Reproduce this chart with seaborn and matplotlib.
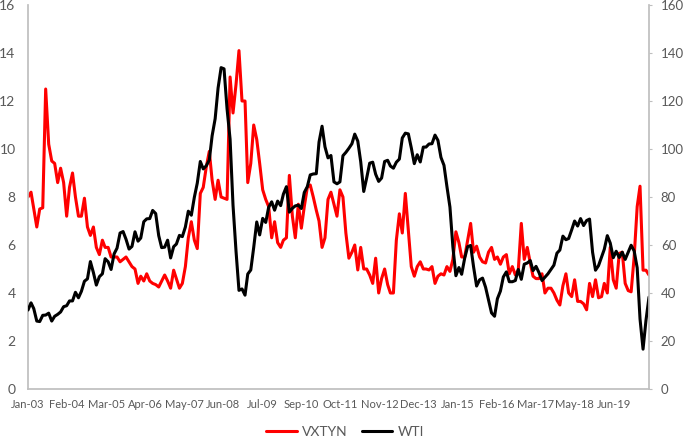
import pandas as pd
import numpy as np
import matplotlib
matplotlib.use('Agg')
import matplotlib.pyplot as plt
import seaborn as sns

# monthly data, Jan 2003 - Jun 2020
months = pd.date_range('2003-01-01', periods=210, freq='MS')

vxtyn = [
    8.0, 8.2, 7.5, 6.75, 7.5, 7.55, 12.5, 10.2, 9.5, 9.4, 8.6, 9.2,        # 2003
    8.6, 7.2, 8.4, 9.0, 8.0, 7.2, 7.2, 7.95, 6.75, 6.4, 6.75, 5.9,         # 2004
    5.6, 6.2, 5.9, 5.9, 5.5, 5.5, 5.5, 5.3, 5.4, 5.5, 5.3, 5.1,            # 2005
    5.0, 4.4, 4.7, 4.5, 4.8, 4.5, 4.4, 4.35, 4.25, 4.5, 4.75, 4.5,         # 2006
    4.2, 4.95, 4.6, 4.2, 4.4, 5.1, 6.3, 6.97, 6.2, 5.85, 8.15, 8.4,        # 2007
    9.25, 9.9, 8.7, 7.9, 8.7, 8.0, 7.95, 7.9, 13.0, 11.5, 12.7, 14.1,      # 2008
    12.0, 12.0, 8.6, 9.4, 11.0, 10.4, 9.4, 8.3, 7.9, 7.6, 6.3, 6.97,       # 2009
    6.1, 5.9, 6.2, 6.3, 8.9, 7.2, 6.3, 7.7, 6.7, 7.6, 8.4, 8.5,            # 2010
    8.0, 7.45, 7.0, 5.9, 6.3, 7.9, 8.2, 7.7, 7.2, 8.3, 8.0, 6.5,           # 2011
    5.45, 5.7, 6.0, 4.96, 5.9, 5.0, 5.0, 4.75, 4.4, 5.45, 4.0, 4.6,        # 2012
    5.0, 4.35, 4.0, 4.0, 6.2, 7.3, 6.5, 8.15, 6.6, 5.1, 4.7, 5.1,          # 2013
    5.3, 5.0, 5.0, 4.96, 5.1, 4.4, 4.7, 4.8, 4.75, 5.1, 4.9, 5.4,          # 2014
    6.55, 6.1, 5.5, 5.5, 6.2, 6.9, 5.7, 5.95, 5.5, 5.3, 5.25, 5.7,         # 2015
    5.9, 5.4, 5.5, 5.2, 5.5, 5.6, 4.8, 5.1, 4.75, 4.96, 6.9, 5.4,          # 2016
    5.9, 5.25, 4.7, 4.6, 4.6, 4.8, 4.0, 4.2, 4.2, 4.0, 3.7, 3.5,           # 2017
    4.3, 4.8, 4.0, 3.85, 4.55, 3.65, 3.65, 3.55, 3.3, 4.4, 3.85, 4.55,     # 2018
    3.8, 3.85, 4.4, 4.0, 5.9, 4.55, 4.2, 5.65, 5.7, 4.4, 4.1, 4.05,        # 2019
    5.5, 7.6, 8.45, 4.95, 4.95, 4.75,                                      # 2020
]

wti = [
    32.9, 35.9, 33.5, 28.3, 28.1, 30.7, 30.8, 31.6, 28.3, 30.3, 31.1, 32.1,
    34.3, 34.7, 36.7, 36.7, 40.3, 38.0, 40.7, 44.9, 45.9, 53.1, 48.5, 43.3,
    46.8, 48.0, 54.3, 53.0, 49.8, 56.3, 58.7, 65.0, 65.6, 62.4, 58.3, 59.4,
    65.5, 61.6, 62.9, 69.7, 70.9, 71.0, 74.4, 73.1, 63.9, 58.9, 59.1, 62.0,
    54.6, 59.3, 60.4, 64.0, 63.5, 67.5, 74.1, 72.4, 79.9, 85.8, 94.8, 91.7,
    93.0, 95.4, 105.5, 112.6, 125.4, 133.9, 133.4, 116.7, 104.1, 76.6, 57.3, 41.1,
    41.7, 39.1, 47.9, 49.6, 59.0, 69.6, 64.2, 71.1, 69.4, 75.7, 78.0, 74.5,
    78.3, 76.4, 81.2, 84.3, 73.7, 75.3, 76.3, 76.6, 75.2, 81.9, 84.3, 89.2,
    89.6, 89.7, 102.9, 109.5, 100.9, 96.3, 97.3, 86.3, 85.5, 86.3, 97.2, 98.6,
    100.3, 102.2, 106.2, 103.3, 94.7, 82.3, 87.9, 94.1, 94.5, 89.5, 86.5, 87.9,
    94.8, 95.3, 92.9, 92.0, 94.5, 95.8, 104.6, 106.6, 106.3, 100.5, 93.9, 97.6,
    94.6, 100.8, 100.8, 102.1, 102.2, 105.8, 103.6, 96.5, 93.2, 84.4, 75.8, 59.3,
    47.2, 50.6, 47.8, 54.5, 59.3, 59.8, 50.9, 42.9, 45.5, 46.2, 42.4, 37.2,
    31.7, 30.3, 37.6, 40.8, 46.7, 48.8, 44.7, 44.7, 45.2, 49.8, 45.7, 52.0,
    52.5, 53.5, 49.3, 51.1, 48.5, 45.2, 46.6, 48.0, 49.8, 51.6, 56.6, 57.9,
    63.7, 62.2, 62.7, 66.3, 70.0, 67.9, 71.0, 68.1, 70.2, 70.8, 57.0, 49.5,
    51.4, 55.0, 58.2, 63.9, 60.8, 54.7, 57.4, 54.8, 57.0, 54.0, 57.0, 59.9,
    57.5, 50.5, 29.2, 16.6, 28.6, 38.3,
]

# Excel date axis: label every 400 days
tick_dates = [pd.Timestamp('2003-01-01') + pd.Timedelta(days=400 * k) for k in range(16)]
tick_labels = [d.strftime('%b-%y') for d in tick_dates]

df = pd.DataFrame({'date': months, 'VXTYN': vxtyn, 'WTI': wti})

sns.set_theme(style='white')
plt.rcParams['font.family'] = ['Lato', 'DejaVu Sans']

W, H = 685, 441
fig = plt.figure(figsize=(W / 100, H / 100), dpi=100)
ax = fig.add_axes([28 / W, 1 - 389 / H, (649 - 28) / W, (389 - 5) / H])
ax2 = ax.twinx()

sns.lineplot(data=df, x='date', y='VXTYN', ax=ax, color='#FF0000', linewidth=2.2, legend=False)
sns.lineplot(data=df, x='date', y='WTI', ax=ax2, color='black', linewidth=2.2, legend=False)

grey = '#BFBFBF'
txt = '#595959'

ax.set_xlim(months[0], months[-1])
ax.set_ylim(0, 16)
ax.set_yticks(range(0, 17, 2))
ax2.set_ylim(0, 160)
ax2.set_yticks(range(0, 161, 20))
ax.set_xticks(tick_dates)
ax.set_xticklabels(tick_labels)

for a in (ax, ax2):
    a.set_xlabel('')
    a.set_ylabel('')
    a.grid(False)
    a.spines['top'].set_visible(False)

ax.spines['left'].set_color(grey)
ax.spines['bottom'].set_color(grey)
ax.spines['right'].set_visible(False)
ax2.spines['left'].set_visible(False)
ax2.spines['bottom'].set_visible(False)
ax2.spines['right'].set_color(grey)

ax.tick_params(axis='y', length=0, pad=9, labelsize=10, labelcolor=txt)
ax.tick_params(axis='x', length=0, pad=7, labelsize=8, labelcolor=txt)
ax2.tick_params(axis='y', length=2.5, width=0.8, color=grey, pad=6, labelsize=9.5, labelcolor=txt)

handles = [plt.Line2D([], [], color='#FF0000', linewidth=2.2),
           plt.Line2D([], [], color='black', linewidth=2.2)]
fig.legend(handles, ['VXTYN', 'WTI'], loc='center', bbox_to_anchor=(0.504, 1 - 432 / H),
           ncol=2, frameon=False, fontsize=10, handlelength=2.2, columnspacing=1.0,
           handletextpad=0.4, labelcolor=txt)

fig.savefig('out.png', dpi=100)
